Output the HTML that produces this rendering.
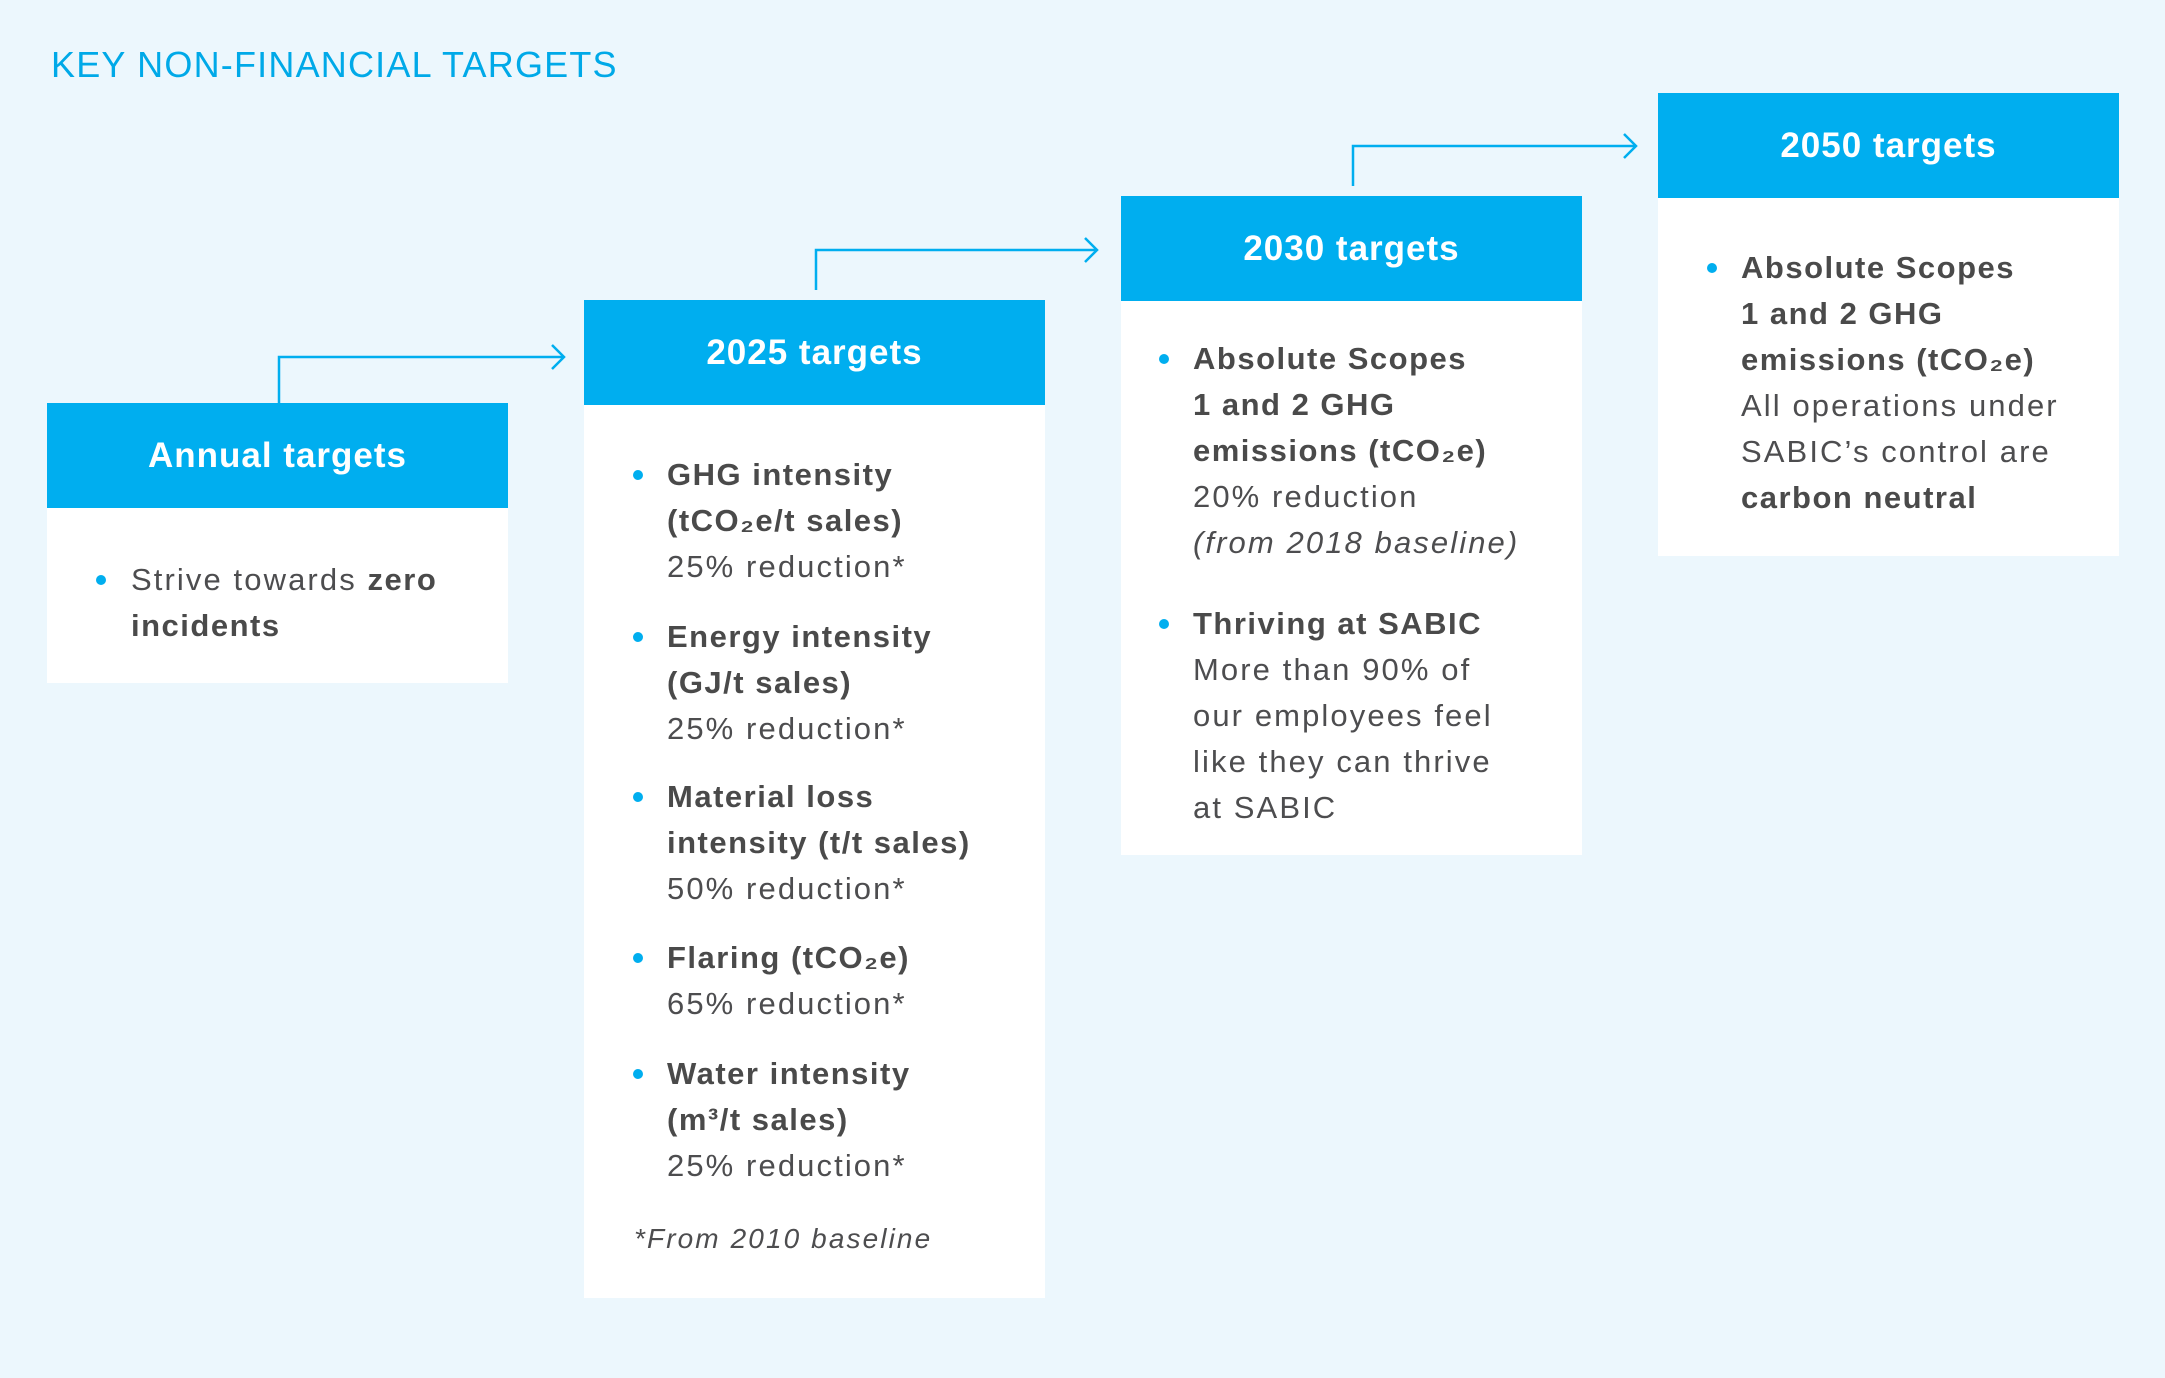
<!DOCTYPE html>
<html><head><meta charset="utf-8">
<style>
*{margin:0;padding:0;box-sizing:border-box}
body{width:2165px;height:1378px;background:#ecf7fd;font-family:"Liberation Sans","DejaVu Sans",sans-serif;color:#4d4d4f;position:relative;overflow:hidden}
.t{position:absolute;left:51px;top:44px;font-size:36px;color:#00a9e8;letter-spacing:1.2px}
.box{position:absolute;background:#fff}
.hd{position:absolute;left:0;right:0;top:0;background:#00aeef;color:#fff;font-size:35px;display:flex;align-items:center;justify-content:center;font-weight:bold;letter-spacing:1px}
.g{position:absolute;font-size:31px;line-height:46px;white-space:nowrap;letter-spacing:2.1px}
.g b{font-weight:bold;color:#4a4a4a;letter-spacing:1.5px}
.g .dot{position:absolute;width:10px;height:10px;border-radius:50%;background:#00aeef;top:18px}
.i{font-style:italic}
</style></head><body>
<div class="t">KEY NON-FINANCIAL TARGETS</div>
<svg width="2165" height="1378" style="position:absolute;left:0;top:0">
<g fill="none" stroke="#00aeef" stroke-width="2.5">
<polyline points="279,403 279,357 564,357"/><polyline points="552,345 564,357 552,369"/>
<polyline points="816,290 816,250 1097,250"/><polyline points="1085,238 1097,250 1085,262"/>
<polyline points="1353,186 1353,146 1636,146"/><polyline points="1624,134 1636,146 1624,158"/>
</g></svg>

<div class="box" style="left:47px;top:403px;width:461px;height:280px"><div class="hd" style="height:105px">Annual targets</div></div>
<div class="box" style="left:584px;top:300px;width:461px;height:998px"><div class="hd" style="height:105px">2025 targets</div></div>
<div class="box" style="left:1121px;top:196px;width:461px;height:659px"><div class="hd" style="height:105px">2030 targets</div></div>
<div class="box" style="left:1658px;top:93px;width:461px;height:463px"><div class="hd" style="height:105px">2050 targets</div></div>

<div class="g" style="left:131px;top:557px"><span class="dot" style="left:-35px"></span>Strive towards <b>zero</b><br><b>incidents</b></div>

<div class="g" style="left:667px;top:452px"><span class="dot" style="left:-34px"></span><b>GHG intensity</b><br><b>(tCO₂e/t sales)</b><br>25% reduction*</div>
<div class="g" style="left:667px;top:614px"><span class="dot" style="left:-34px"></span><b>Energy intensity</b><br><b>(GJ/t sales)</b><br>25% reduction*</div>
<div class="g" style="left:667px;top:774px"><span class="dot" style="left:-34px"></span><b>Material loss</b><br><b>intensity (t/t sales)</b><br>50% reduction*</div>
<div class="g" style="left:667px;top:935px"><span class="dot" style="left:-34px"></span><b>Flaring (tCO₂e)</b><br>65% reduction*</div>
<div class="g" style="left:667px;top:1051px"><span class="dot" style="left:-34px"></span><b>Water intensity</b><br><b>(m³/t sales)</b><br>25% reduction*</div>
<div class="g i" style="left:634px;top:1216px;font-size:28px">*From 2010 baseline</div>

<div class="g" style="left:1193px;top:336px"><span class="dot" style="left:-34px"></span><b>Absolute Scopes</b><br><b>1 and 2 GHG</b><br><b>emissions (tCO₂e)</b><br>20% reduction<br><span class="i">(from 2018 baseline)</span></div>
<div class="g" style="left:1193px;top:601px"><span class="dot" style="left:-34px"></span><b>Thriving at SABIC</b><br>More than 90% of<br>our employees feel<br>like they can thrive<br>at SABIC</div>

<div class="g" style="left:1741px;top:245px"><span class="dot" style="left:-34px"></span><b>Absolute Scopes</b><br><b>1 and 2 GHG</b><br><b>emissions (tCO₂e)</b><br>All operations under<br>SABIC’s control are<br><b>carbon neutral</b></div>
</body></html>
